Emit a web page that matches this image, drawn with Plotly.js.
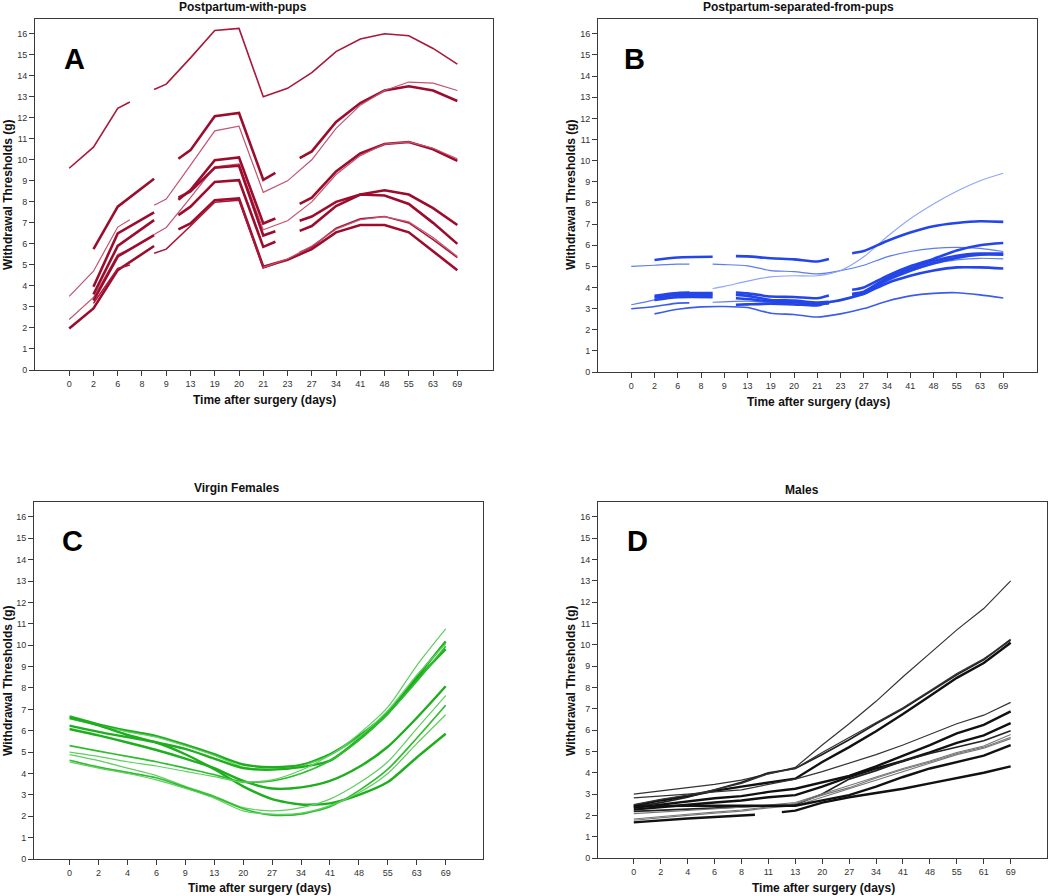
<!DOCTYPE html>
<html>
<head>
<meta charset="utf-8">
<script src="https://cdn.plot.ly/plotly-3.0.1.min.js"></script>
<style>
  body { margin: 0; background: #fff; }
  #chart { width: 1050px; height: 896px; }
</style>
</head>
<body>
<div id="chart"></div>
<script>
// tick labels (days after surgery) for each panel
var daysA = ['0','2','6','8','9','13','19','20','21','23','27','34','41','48','55','63','69'];
var daysB = ['0','2','6','8','9','13','19','20','21','23','27','34','41','48','55','63','69'];
var daysC = ['0','2','4','6','9','13','20','27','34','41','48','55','63','69'];
var daysD = ['0','2','4','6','8','11','13','20','27','34','41','48','55','61','69'];

// panels A and B: [category position, threshold] pairs, null = missing (gap)
var linesA = [
  [[0,9.6],[1,10.6],[2,12.45],[2.5,12.75],[3,null],[3.5,13.35],[4,13.6],[5,14.85],[6,16.15],[7,16.25],[8,13.0],[9,13.4],[10,14.15],[11,15.15],[12,15.75],[13,16.0],[14,15.9],[15,15.3],[16,14.55]],
  [[1,5.75],[2,7.77],[3.5,9.1],[4,null],[4.5,10.05],[5,10.46],[6,12.07],[7,12.23],[8,9.05],[8.5,9.38],[9,null],[9.5,10.08],[10,10.4],[11,11.8],[12,12.7],[13,13.3],[14,13.5],[15,13.3],[16,12.8]],
  [[0,3.5],[1,4.7],[2,6.8],[2.5,7.15],[3,null],[3.5,7.84],[4,8.13],[5,9.75],[6,11.38],[7,11.6],[8,8.45],[9,9.0],[10,10.0],[11,11.5],[12,12.6],[13,13.3],[14,13.7],[15,13.65],[16,13.3]],
  [[1,3.96],[2,6.5],[3.5,7.5],[4,null],[4.5,8.1],[5,8.56],[6,9.98],[7,10.11],[8,6.97],[8.5,7.21],[9,null],[9.5,7.9],[10,8.2],[11,9.45],[12,10.3],[13,10.75],[14,10.85],[15,10.5],[16,9.95]],
  [[0,2.4],[1,3.45],[2,5.5],[2.5,5.75],[3,null],[3.5,6.45],[4,6.78],[5,8.2],[6,9.67],[7,9.8],[8,6.67],[9,7.1],[10,8.0],[11,9.3],[12,10.2],[13,10.75],[14,10.85],[15,10.55],[16,10.05]],
  [[1,3.6],[2,5.9],[3.5,7.13],[4,null],[4.5,8.2],[5,8.5],[6,9.62],[7,9.72],[8,6.4],[8.5,6.6],[9,null],[9.5,7.1],[10,7.3],[11,8.0],[12,8.35],[13,8.55],[14,8.35],[15,7.7],[16,6.9]],
  [[1,3.3],[2,5.4],[3.5,6.42],[4,null],[4.5,7.37],[5,7.77],[6,8.95],[7,9.03],[8,5.86],[8.5,6.1],[9,null],[9.5,6.62],[10,6.85],[11,7.8],[12,8.35],[13,8.3],[14,7.9],[15,7.0],[16,6.0]],
  [[0,1.98],[1,2.93],[2,4.75],[3.5,5.9],[4,null],[4.5,6.69],[5,6.97],[6,8.08],[7,8.16],[8,4.91],[9,5.25],[10,5.75],[11,6.55],[12,6.9],[13,6.9],[14,6.55],[15,5.65],[16,4.75]],
  [[1,3.17],[2,4.83],[2.5,5.0],[3,null],[3.5,5.55],[4,5.75],[5,6.85],[6,7.98],[7,8.08],[8,4.85],[8.5,5.05],[9,null],[9.5,5.6],[10,5.85],[11,6.75],[12,7.2],[13,7.3],[14,7.0],[15,6.2],[16,5.35]],
  [[8,4.88],[9,5.28],[10,5.9],[11,6.7],[12,7.15],[13,7.3],[14,7.05],[15,6.3],[16,5.4]]
];
var kindA = ['mid','thick','thin','thick','thin','thick','thick','thick','mid','thin'];

var linesB = [
  [[0,5.0],[1,5.05],[2,5.1],[2.5,5.1],[3,null],[3.5,5.1],[4,5.08],[5,5.02],[6,4.8],[7,4.75],[8,4.64],[9,4.8],[10,5.05],[11,5.45],[12,5.7],[13,5.85],[14,5.9],[15,5.85],[16,5.7]],
  [[3.5,3.95],[4,4.05],[5,4.3],[6,4.5],[7,4.55],[8,4.55],[9,4.8],[10,5.45],[11,6.4],[12,7.25],[13,7.95],[14,8.55],[15,9.05],[16,9.4]],
  [[1,5.3],[2,5.42],[3.5,5.45],[4,null],[4.5,5.48],[5,5.47],[6,5.38],[7,5.33],[8,5.23],[8.5,5.35],[9,null],[9.5,5.62],[10,5.72],[11,6.2],[12,6.6],[13,6.9],[14,7.05],[15,7.13],[16,7.1]],
  [[0,3.18],[1,3.41],[2,3.76],[2.5,3.8],[3,null],[3.5,3.3],[4,3.32],[5,3.35],[6,3.3],[7,3.28],[8,3.2],[9,3.4],[10,3.75],[11,4.3],[12,4.75],[13,5.1],[14,5.3],[15,5.38],[16,5.35]],
  [[0,2.99],[1,3.1],[2,3.26],[2.5,3.27]],
  [[1,2.75],[2,2.97],[3,3.08],[4,3.1],[5,3.05],[6,2.78],[7,2.72],[8,2.6],[9,2.75],[10,3.0],[11,3.35],[12,3.6],[13,3.72],[14,3.75],[15,3.65],[16,3.5]],
  [[1,3.6],[2,3.73],[3.5,3.73],[4,null],[4.5,3.76],[5,3.72],[6,3.57],[7,3.55],[8,3.49],[8.5,3.62],[9,null],[9.5,3.89],[10,4.0],[11,4.55],[12,5.0],[13,5.35],[14,5.75],[15,6.0],[16,6.1]],
  [[1,3.52],[2,3.65],[3.5,3.65],[4,null],[4.5,3.65],[5,3.6],[6,3.41],[7,3.38],[8,3.29],[8.5,3.32],[9,null],[9.5,3.7],[10,3.8],[11,4.45],[12,4.9],[13,5.25],[14,5.5],[15,5.6],[16,5.6]],
  [[1,3.41],[2,3.54],[3.5,3.54],[4,null],[4.5,3.49],[5,3.45],[6,3.34],[7,3.3],[8,3.23],[8.5,3.24],[9,null],[9.5,3.65],[10,3.7],[11,4.35],[12,4.8],[13,5.15],[14,5.4],[15,5.55],[16,5.55]],
  [[4.5,3.18],[5,3.2],[6,3.23],[7,3.2],[8,3.15],[8.5,3.3],[9,3.4],[10,3.7],[11,4.2],[12,4.55],[13,4.8],[14,4.95],[15,4.95],[16,4.9]]
];
var kindB = ['thin','light','thick','thin','mid','mid','thick','thick','thick','thick'];

// panels C and D: one value per day
var linesC = [
  [6.67,6.3,6.0,5.75,5.35,4.9,4.42,4.3,4.4,4.9,5.75,6.85,8.5,10.18],
  [6.55,6.25,5.95,5.7,5.3,4.85,4.3,4.2,4.35,4.85,5.85,7.1,9.05,10.76],
  [6.6,6.25,5.8,5.45,4.9,4.2,3.4,2.8,2.55,2.6,3.0,3.6,4.75,5.86],
  [6.24,5.95,5.7,5.45,5.15,4.7,4.25,4.18,4.3,4.6,5.6,6.8,8.4,9.82],
  [6.08,5.78,5.45,5.1,4.7,4.25,3.65,3.3,3.35,3.65,4.3,5.25,6.6,8.08],
  [5.3,5.05,4.8,4.55,4.25,3.95,3.6,3.65,4.0,4.6,5.55,6.8,8.3,9.95],
  [5.0,4.8,4.55,4.35,4.1,3.85,3.6,3.7,4.15,4.85,5.7,6.95,8.6,10.07],
  [4.88,4.6,4.25,3.9,3.4,2.95,2.4,2.25,2.4,2.8,3.55,4.55,6.1,7.64],
  [4.62,4.3,4.05,3.8,3.35,2.9,2.35,2.05,2.1,2.45,3.2,4.2,5.65,7.19],
  [4.54,4.25,4.0,3.7,3.3,2.85,2.25,2.1,2.15,2.5,3.1,4.0,5.4,6.75]
];
var kindC = ['thick','thin','thick','thick','thick','mid','thin','thin','mid','thin'];

var linesD = [
  [3.0,3.15,3.3,3.45,3.65,3.95,4.25,5.3,6.3,7.35,8.5,9.6,10.7,11.7,13.0],
  [2.45,2.7,2.9,3.15,3.35,3.55,3.72,4.5,5.2,5.95,6.75,7.6,8.45,9.15,10.1],
  [2.4,2.6,2.85,3.2,3.55,4.0,4.2,4.85,5.55,6.3,7.0,7.8,8.6,9.3,10.25],
  [2.5,2.75,2.95,3.2,3.5,3.95,4.2,4.95,5.65,6.35,7.05,7.85,8.65,9.35,10.2],
  [2.82,2.9,3.0,3.1,3.2,3.45,3.7,4.05,4.45,4.85,5.3,5.8,6.3,6.7,7.3],
  [2.35,2.5,2.65,2.8,2.9,3.1,3.25,3.55,3.85,4.3,4.8,5.3,5.85,6.25,6.88],
  [2.27,2.4,2.5,2.6,2.7,2.85,2.95,3.35,3.8,4.2,4.55,4.95,5.4,5.75,6.33],
  [2.19,2.25,2.3,2.35,2.4,2.45,2.5,3.0,3.7,4.1,4.55,4.9,5.2,5.5,5.97],
  [2.08,2.15,2.22,2.3,2.38,2.48,2.6,3.0,3.4,3.8,4.2,4.55,4.95,5.25,5.79],
  [1.83,1.95,2.05,2.15,2.25,2.4,2.55,2.95,3.3,3.75,4.15,4.5,4.9,5.2,5.66],
  [1.77,1.9,2.0,2.1,2.2,2.35,2.45,2.85,3.25,3.65,4.05,4.45,4.85,5.15,5.6],
  [2.42,2.45,2.45,2.45,2.45,2.45,2.45,2.7,2.95,3.35,3.8,4.2,4.5,4.8,5.29]
];
var kindD = ['thin','thick','mid','thin','thin','thick','thick','mid','gray','gray','gray','thick'];
// bottom male line, broken between day 8 and day 13
var brokenD = [[0,1.67],[1,1.77],[2,1.85],[3,1.92],[4,1.98],[4.5,2.03],[5,null],[5.5,2.15],[6,2.22],[7,2.6],[8,2.85],[9,3.05],[10,3.25],[11,3.5],[12,3.75],[13,4.0],[14,4.3]];

var stylesA = {thick:{color:'#9c0d2d',width:2.6}, mid:{color:'#a81838',width:1.6}, thin:{color:'#c4536f',width:1.2}};
var stylesB = {thick:{color:'#2446e8',width:2.6}, mid:{color:'#3b5ced',width:1.6}, thin:{color:'#5c7cf0',width:1.2}, light:{color:'#8ea6f5',width:1.1}};
var stylesC = {thick:{color:'#1eae1e',width:2.4}, mid:{color:'#2fbd2f',width:1.7}, thin:{color:'#5fcf5f',width:1.2}};
var stylesD = {thick:{color:'#111111',width:2.4}, mid:{color:'#222222',width:1.7}, thin:{color:'#333333',width:1.2}, gray:{color:'#777777',width:1.1}};

var traces = [];
function addPairs(lines, kinds, styles, n, shape) {
  lines.forEach(function(pts, i) {
    traces.push({
      x: pts.map(function(p) { return p[0]; }),
      y: pts.map(function(p) { return p[1]; }),
      type: 'scatter', mode: 'lines', connectgaps: false,
      line: {color: styles[kinds[i]].color, width: styles[kinds[i]].width, shape: shape, smoothing: 0.7},
      xaxis: 'x' + n, yaxis: 'y' + n, hoverinfo: 'skip'
    });
  });
}
function addSeries(lines, kinds, styles, n, shape) {
  lines.forEach(function(vals, i) {
    traces.push({
      x: vals.map(function(v, j) { return j; }),
      y: vals,
      type: 'scatter', mode: 'lines',
      line: {color: styles[kinds[i]].color, width: styles[kinds[i]].width, shape: shape, smoothing: 0.7},
      xaxis: 'x' + n, yaxis: 'y' + n, hoverinfo: 'skip'
    });
  });
}
addPairs(linesA, kindA, stylesA, '', 'linear');
addPairs(linesB, kindB, stylesB, '2', 'spline');
addSeries(linesC, kindC, stylesC, '3', 'spline');
addSeries(linesD, kindD, stylesD, '4', 'linear');
addPairs([brokenD], ['thick'], stylesD, '4', 'linear');

// pixel helpers for the 1050x896 page
function px(x) { return x / 1050; }
function py(y) { return 1 - y / 896; }

function xAxis(x0, x1, y, labels, range) {
  return {
    domain: [px(x0), px(x1)], anchor: y, range: range,
    tickvals: labels.map(function(l, i) { return i; }), ticktext: labels,
    showline: true, mirror: true, linecolor: '#3a3a3a', linewidth: 1,
    ticks: 'outside', ticklen: 5, tickcolor: '#3a3a3a',
    tickfont: {family: 'Liberation Sans, Arial, sans-serif', size: 9, color: '#333'},
    showgrid: false, zeroline: false, fixedrange: true
  };
}
function yAxis(y0, y1, x) {
  return {
    domain: [py(y1), py(y0)], anchor: x, range: [0, 16.7],
    tickvals: [0,1,2,3,4,5,6,7,8,9,10,11,12,13,14,15,16],
    showline: true, mirror: true, linecolor: '#3a3a3a', linewidth: 1,
    ticks: 'outside', ticklen: 5, tickcolor: '#3a3a3a',
    tickfont: {family: 'Liberation Sans, Arial, sans-serif', size: 9, color: '#333'},
    showgrid: false, zeroline: false, fixedrange: true
  };
}

var boldFont = {family: 'Liberation Sans, Arial, sans-serif', size: 12, color: '#111'};
var letterFont = {family: 'Liberation Sans, Arial, sans-serif', size: 29, color: '#000'};
function note(text, x, y, font, angle) {
  return {text: '<b>' + text + '</b>', x: px(x), y: py(y), xref: 'paper', yref: 'paper',
          xanchor: 'center', yanchor: 'middle', showarrow: false, font: font, textangle: angle || 0};
}

var layout = {
  width: 1050, height: 896,
  margin: {l: 0, r: 0, t: 0, b: 0},
  paper_bgcolor: '#fff', plot_bgcolor: '#fff',
  showlegend: false,
  xaxis: xAxis(35, 493, 'y', daysA, [-1.41, 17.47]),
  yaxis: yAxis(19, 370, 'x'),
  xaxis2: xAxis(598, 1037, 'y2', daysB, [-1.43, 17.45]),
  yaxis2: yAxis(19, 372, 'x2'),
  xaxis3: xAxis(34, 483, 'y3', daysC, [-1.23, 14.29]),
  yaxis3: yAxis(502, 859, 'x3'),
  xaxis4: xAxis(598, 1047, 'y4', daysD, [-1.33, 15.35]),
  yaxis4: yAxis(502, 858, 'x4'),
  annotations: [
    note('Postpartum-with-pups', 243, 7, boldFont),
    note('Postpartum-separated-from-pups', 798, 7, boldFont),
    note('Virgin Females', 236, 488, boldFont),
    note('Males', 802, 490, boldFont),
    note('Time after surgery (days)', 264, 400, boldFont),
    note('Time after surgery (days)', 818, 402, boldFont),
    note('Time after surgery (days)', 259, 888, boldFont),
    note('Time after surgery (days)', 823, 888, boldFont),
    note('Withdrawal Thresholds (g)', 8, 195, boldFont, -90),
    note('Withdrawal Thresholds (g)', 571, 195, boldFont, -90),
    note('Withdrawal Thresholds (g)', 8, 681, boldFont, -90),
    note('Withdrawal Thresholds (g)', 571, 681, boldFont, -90),
    note('A', 74, 59, letterFont),
    note('B', 634, 59, letterFont),
    note('C', 72, 541, letterFont),
    note('D', 637, 541, letterFont)
  ]
};

Plotly.newPlot('chart', traces, layout, {displayModeBar: false, staticPlot: true});
</script>
</body>
</html>
